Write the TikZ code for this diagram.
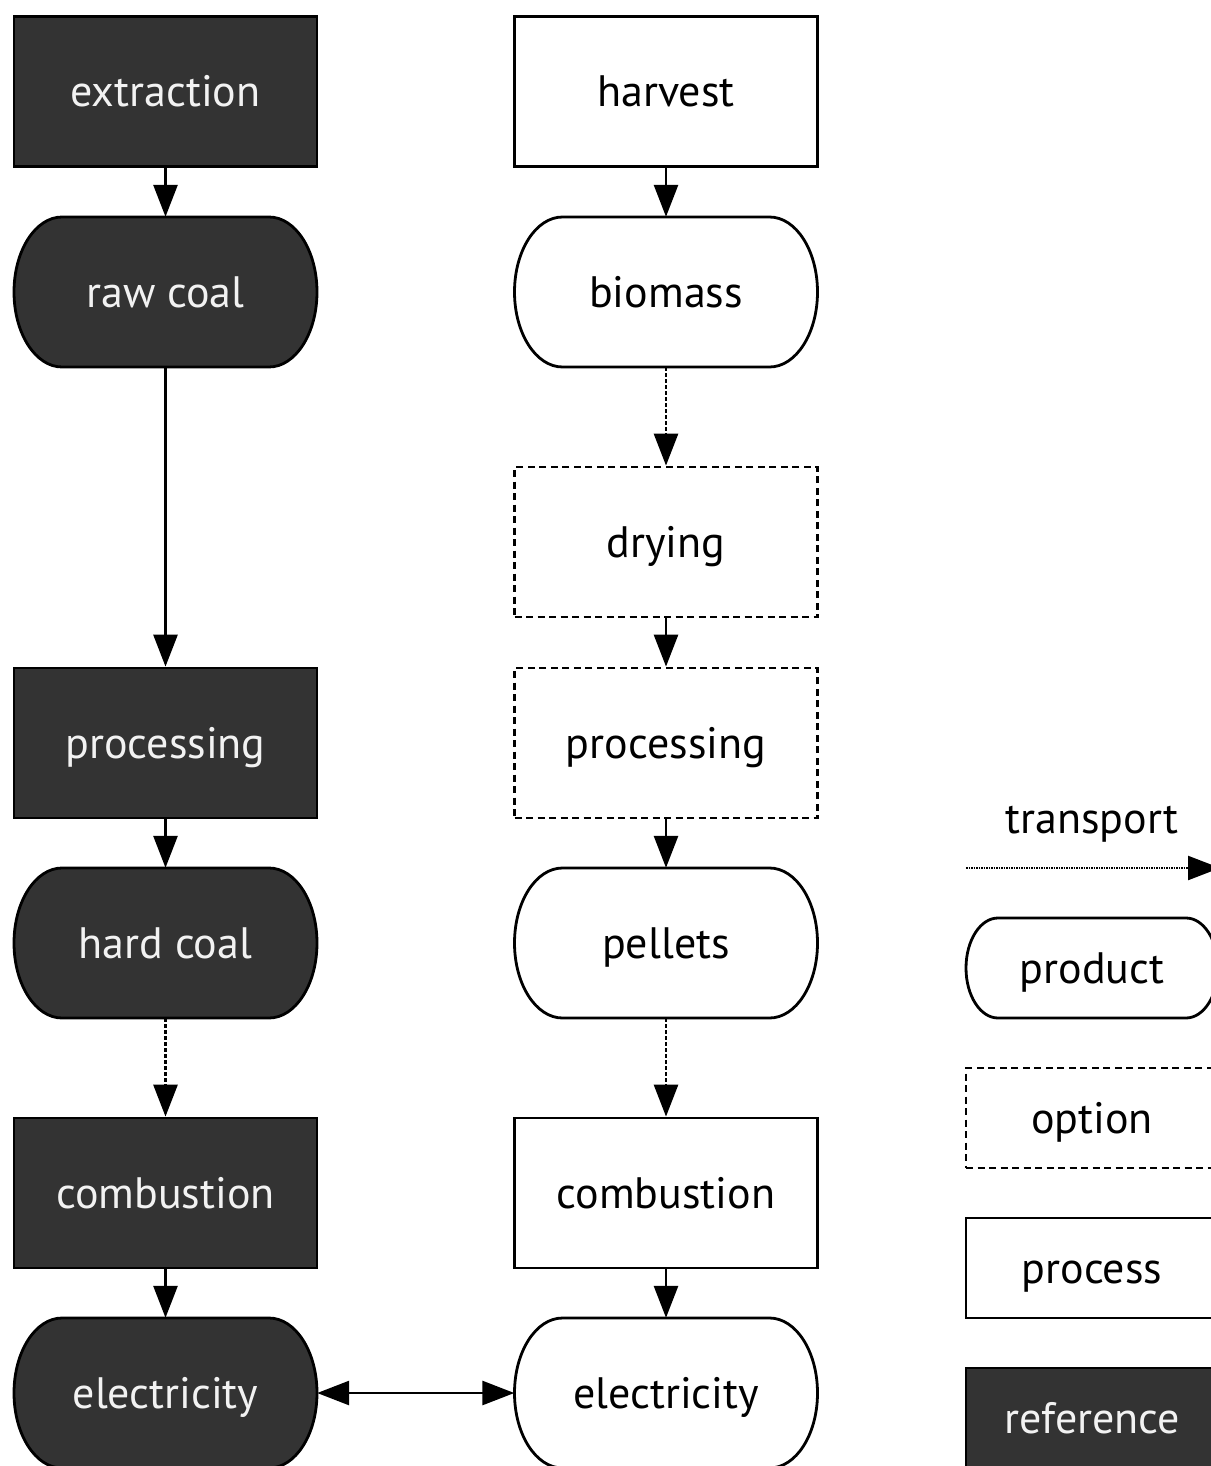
\documentclass[tikz,border=0pt]{standalone}
\usepackage{fontspec}
\setmainfont{PT Sans}
\usetikzlibrary{arrows.meta}
\definecolor{dark}{HTML}{333333}
\definecolor{lighttext}{HTML}{F2F2F2}
\tikzset{
  x=1pt, y=1pt,
  txt/.style={font=\fontsize{44}{48}\selectfont, inner sep=0pt, text height=35, text depth=4},
  lbl/.style={txt, minimum width=303, minimum height=150},
  boxline/.style={draw=black, line width=2.8},
  procbox/.style={lbl, boxline, fill=white},
  refbox/.style={lbl, boxline, fill=dark, text=lighttext},
  optbox/.style={lbl, draw=black, line width=2.8, dash pattern=on 7 off 4.5, fill=white},
  conn/.style={line width=2.8, -{Triangle[length=32, width=24]}},
  dconn/.style={conn, dash pattern=on 3.5 off 2.5},
  bconn/.style={line width=2.8, {Triangle[length=32, width=24]}-{Triangle[length=32, width=24]}},
}
% stadium: name, x, y, fill, text color, text, half width, half height, corner x radius
\newcommand\stadshape[9]{%
  \draw[boxline, fill=#4] (#2-#7+#9,#3+#8) -- (#2+#7-#9,#3+#8)
     arc[start angle=90, end angle=-90, x radius=#9, y radius=#8]
     -- (#2-#7+#9,#3-#8)
     arc[start angle=270, end angle=90, x radius=#9, y radius=#8] -- cycle;
  \node[lbl, text=#5, minimum width=2*#7, minimum height=2*#8] (#1) at (#2,#3) {#6};
}
\begin{document}
\begin{tikzpicture}
\useasboundingbox (0,0) rectangle (1210,-1466);
% left column
\node[refbox] (extr) at (165.5,-91.5) {extraction};
\stadshape{raw}{165.5}{-292}{dark}{lighttext}{raw coal}{151.5}{75}{48}
\node[refbox] (lproc) at (165.5,-743) {processing};
\stadshape{hard}{165.5}{-943}{dark}{lighttext}{hard coal}{151.5}{75}{48}
\node[refbox] (lcomb) at (165.5,-1193) {combustion};
\stadshape{lelec}{165.5}{-1393}{dark}{lighttext}{electricity}{151.5}{75}{48}
% right column
\node[procbox] (harv) at (666,-91.5) {harvest};
\stadshape{bio}{666}{-292}{white}{black}{biomass}{151.5}{75}{48}
\node[optbox] (dry) at (666,-542) {drying};
\node[optbox] (rproc) at (666,-743) {processing};
\stadshape{pel}{666}{-943}{white}{black}{pellets}{151.5}{75}{48}
\node[procbox] (rcomb) at (666,-1193) {combustion};
\stadshape{relec}{666}{-1393}{white}{black}{electricity}{151.5}{75}{48}
% legend
\node[txt] (tr) at (1092,-818) {transport};
\coordinate (trs) at (966,-868);
\coordinate (tre) at (1220,-868);
\draw[conn, dash pattern=on 1.5 off 1, line width=2.4] (trs) -- (tre);
\stadshape{lprod}{1092}{-968}{white}{black}{product}{126}{50}{32}
\node[optbox, minimum width=252, minimum height=100] (lopt) at (1092,-1118) {option};
\node[procbox, minimum width=252, minimum height=100] (lpro) at (1092,-1268) {process};
\node[refbox, minimum width=252, minimum height=100] (lref) at (1092,-1418) {reference};
% connectors
\draw[conn] (extr) -- (raw);
\draw[conn] (raw) -- (lproc);
\draw[conn] (lproc) -- (hard);
\draw[dconn] (hard) -- (lcomb);
\draw[conn] (lcomb) -- (lelec);
\draw[conn] (harv) -- (bio);
\draw[dconn] (bio) -- (dry);
\draw[conn] (dry) -- (rproc);
\draw[conn] (rproc) -- (pel);
\draw[dconn] (pel) -- (rcomb);
\draw[conn] (rcomb) -- (relec);
\draw[bconn] (lelec) -- (relec);
\end{tikzpicture}
\end{document}
